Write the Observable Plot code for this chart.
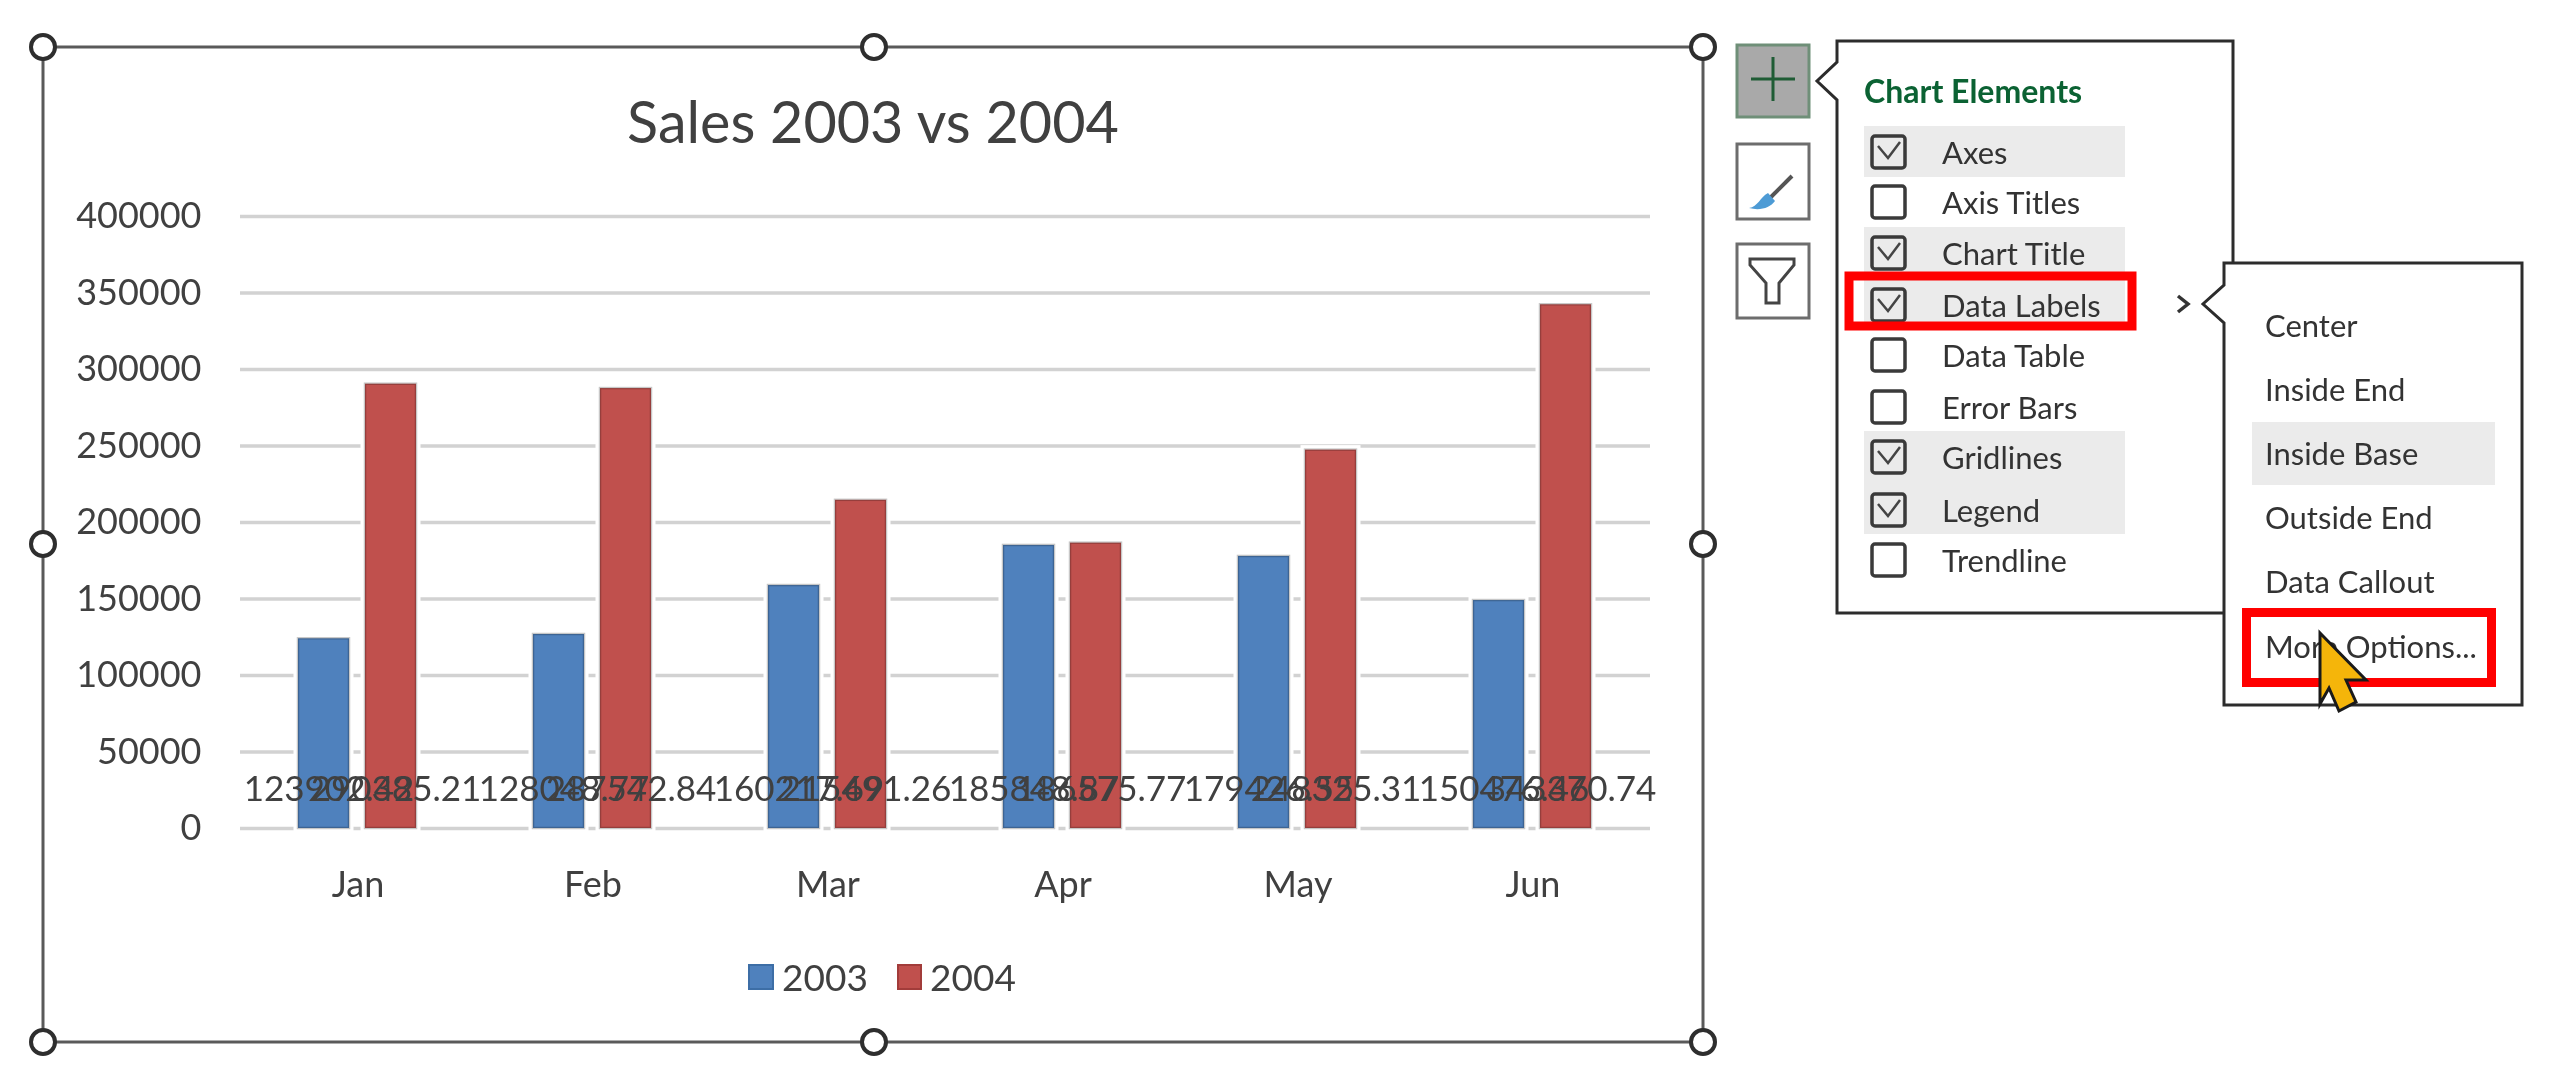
<!DOCTYPE html>
<html><head><meta charset="utf-8">
<script src="https://cdn.jsdelivr.net/npm/d3@7"></script>
<script src="https://cdn.jsdelivr.net/npm/@observablehq/plot@0.6"></script>
<style>
html,body{margin:0;padding:0;background:#fff;width:2560px;height:1092px;overflow:hidden}
#stage{position:relative;width:2560px;height:1092px;font-family:Lato,sans-serif;filter:blur(0.6px)}
#stage svg{position:absolute;left:0;top:0;background:transparent;overflow:visible}
#stage svg text{font-family:Lato,sans-serif}
</style></head><body><div id="stage"></div>
<script>
const months = ["Jan","Feb","Mar","Apr","May","Jun"];
const seriesNames = ["2003","2004"];
const sales2003 = [124000,126800,158800,185000,177800,149000];
const sales2004 = [290385,287542,214500,186500,247300,342300];
const labels2003 = ["123902.42","128048.77","160217.69","185848.87","179426.55","150476.46"];
const labels2004 = ["290385.21","287542.84","215491.26","186575.77","248325.31","343370.74"];
const seriesColors = ["#4f81bd","#c0504d"];
const yTicks = [0,50000,100000,150000,200000,250000,300000,350000,400000];
const chartTitle = "Sales 2003 vs 2004";
const elementRows = [["Axes",true,true],["Axis Titles",false,false],["Chart Title",true,true],["Data Labels",true,true],["Data Table",false,false],["Error Bars",false,false],["Gridlines",true,true],["Legend",true,true],["Trendline",false,false]];
const labelRows = ["Center","Inside End","Inside Base","Outside End","Data Callout","More Options..."];

const table = months.flatMap((month,i)=>[
  {month,series:seriesNames[0],value:sales2003[i],label:labels2003[i]},
  {month,series:seriesNames[1],value:sales2004[i],label:labels2004[i]}
]);
const ink="#404040";
const chart = Plot.plot({
  width:2560,height:1092,marginLeft:237,marginRight:908,marginTop:216,marginBottom:264,
  fx:{domain:months,padding:0,label:null},
  x:{domain:seriesNames,paddingInner:0.235,paddingOuter:0.853,axis:null},
  y:{domain:[0,400000],label:null},
  color:{domain:seriesNames,range:seriesColors},
  marks:[
    Plot.gridY(yTicks,{stroke:"#d2d2d2",strokeWidth:3.5,strokeOpacity:1}),
    Plot.barY(table,{fx:"month",x:"series",y:"value",fill:"#fff",stroke:"#fff",strokeWidth:9}),
    Plot.barY(table,{fx:"month",x:"series",y:"value",fill:"series"}),
    Plot.barY(table,{fx:"month",x:"series",y:"value",fill:"none",stroke:"#000",strokeOpacity:0.22,strokeWidth:2.5}),
    Plot.axisY({ticks:yTicks,tickFormat:d=>String(d),tickSize:0,tickPadding:39,fontSize:36,fill:ink,label:null}),
    Plot.axisFx({anchor:"bottom",tickSize:0,tickPadding:43,fontSize:36,fill:ink,label:null}),
    Plot.text(table,{fx:"month",x:"series",y:()=>0,text:"label",dx:5,dy:-39,fontSize:35,fill:ink})
  ]
});
document.getElementById("stage").appendChild(chart);

// Spreadsheet chrome around the chart
const handles=[[43,47],[873,47],[1703,47],[43,544],[1703,544],[43,1042],[873,1042],[1703,1042]];
let s=`<svg xmlns="http://www.w3.org/2000/svg" width="2560" height="1092" viewBox="0 0 2560 1092">`;
s+=`<rect x="43" y="47" width="1660" height="995" fill="none" stroke="#5a5a5a" stroke-width="3"/>`;
for(const [x,y] of handles) s+=`<circle cx="${x+(x===873?1:0)}" cy="${y}" r="12" fill="#fff" stroke="#2e2e2e" stroke-width="4"/>`;
// title
s+=`<text x="873" y="143" text-anchor="middle" font-size="57.5" fill="${ink}">${chartTitle}</text>`;
// legend
s+=`<rect x="749" y="965" width="24" height="24" fill="${seriesColors[0]}" stroke="#3d6ea6" stroke-width="2"/>`;
s+=`<text x="782" y="991" font-size="37" fill="${ink}">${seriesNames[0]}</text>`;
s+=`<rect x="898" y="965" width="23" height="24" fill="${seriesColors[1]}" stroke="#a23c3a" stroke-width="2"/>`;
s+=`<text x="930" y="991" font-size="37" fill="${ink}">${seriesNames[1]}</text>`;
// buttons
s+=`<rect x="1737" y="45" width="72" height="72" fill="#a9a9a9" stroke="#6f8f78" stroke-width="3"/>`;
s+=`<path d="M1751 79H1795M1773 57V101" stroke="#1f5c35" stroke-width="3" fill="none"/>`;
s+=`<rect x="1737" y="144" width="72" height="75" fill="#fff" stroke="#6d6d6d" stroke-width="3"/>`;
s+=`<path d="M1792 176L1768 200" stroke="#555" stroke-width="4" fill="none"/><path d="M1749 208C1758 207 1760 197 1768 193L1775 201C1770 208 1760 211 1749 208Z" fill="#4d9bd5"/>`;
s+=`<rect x="1737" y="244" width="72" height="74" fill="#fff" stroke="#6d6d6d" stroke-width="3"/>`;
s+=`<path d="M1750 259H1794V265L1779 283V303H1766V283L1750 265Z" fill="#fff" stroke="#444" stroke-width="3"/>`;
// panel 1
s+=`<path d="M1837 41H2233V613H1837V100L1817 81L1837 62Z" fill="#fff" stroke="#2c2c2c" stroke-width="3"/>`;
s+=`<text x="1864" y="103" font-size="32" font-weight="700" fill="#0b6233">Chart Elements</text>`;
const rowY=[152,202,253,305,355,407,457,510,560];
elementRows.forEach(([name,on,shade],i)=>{
  const y=rowY[i];
  if(shade) s+=`<rect x="1864" y="${y-26}" width="261" height="${i===6?53:(i===7?50:51)}" fill="#ebebeb"/>`;
  s+=`<rect x="1872" y="${y-16}" width="33" height="32" rx="3" fill="none" stroke="#3a3a3a" stroke-width="3.5"/>`;
  if(on) s+=`<path d="M1878 ${y-6}L1888 ${y+6}L1900 ${y-10}" fill="none" stroke="#444" stroke-width="2.5"/>`;
  s+=`<text x="1942" y="${y+12}" font-size="31" fill="#333">${name}</text>`;
});
s+=`<rect x="1849" y="276" width="283" height="50" fill="none" stroke="#f00" stroke-width="9"/>`;
s+=`<path d="M2178 296L2188 304L2178 312" fill="none" stroke="#333" stroke-width="3.5"/>`;
// panel 2
s+=`<path d="M2224 263H2522V705H2224V323L2203 304L2224 285Z" fill="#fff" stroke="#2c2c2c" stroke-width="3"/>`;
s+=`<rect x="2252" y="422" width="243" height="63" fill="#ebebeb"/>`;
const labY=[326,390,454,518,582,647];
labelRows.forEach((t,i)=>{ s+=`<text x="2265" y="${labY[i]+11}" font-size="31" fill="#333">${t}</text>`; });
s+=`<rect x="2246.5" y="612.5" width="245" height="70" fill="none" stroke="#f00" stroke-width="9"/>`;
// pointer
s+=`<path d="M2320 633L2366 680H2346L2356 702L2339 711L2329 688L2320 704Z" fill="#f5b50a" stroke="#1a1a1a" stroke-width="3"/>`;
s+=`</svg>`;
document.getElementById("stage").insertAdjacentHTML("beforeend",s);
</script></body></html>
